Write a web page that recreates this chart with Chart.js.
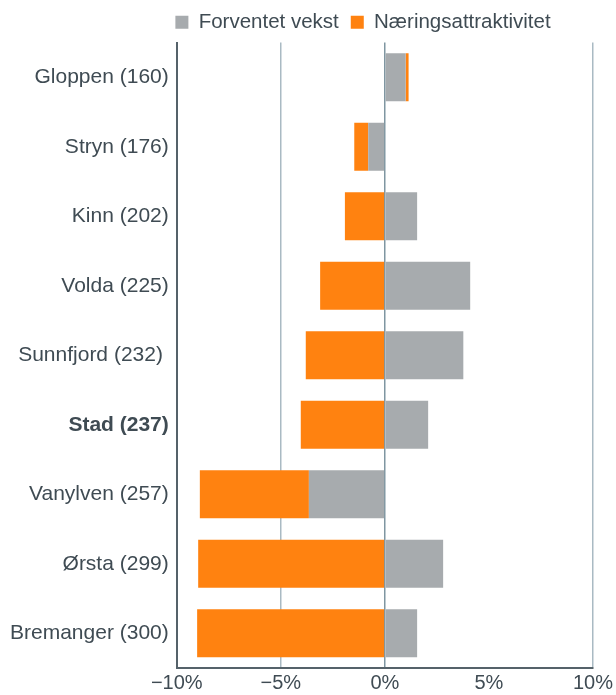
<!DOCTYPE html>
<html>
<head>
<meta charset="utf-8">
<script src="https://cdn.jsdelivr.net/npm/chart.js@4"></script>
<style>
  body { margin: 0; background: #ffffff; }
  #wrap { width: 616px; height: 695px; }
</style>
</head>
<body>
<div id="wrap"><canvas id="vekstChart" width="616" height="695"></canvas></div>
<script>
const kommuner = [
    'Gloppen (160)',
    'Stryn (176)',
    'Kinn (202)',
    'Volda (225)',
    'Sunnfjord (232) ',
    'Stad (237)',
    'Vanylven (257)',
    'Ørsta (299)',
    'Bremanger (300)'
];
const forventetVekst = [1.0, -0.8, 1.55, 4.1, 3.77, 2.08, -3.65, 2.8, 1.55];
const naeringsattraktivitet = [0.14, -0.67, -1.92, -3.11, -3.8, -4.04, -5.24, -8.97, -9.02];
const xTickLabels = ['−10%', '−5%', '0%', '5%', '10%'];

const textColor = '#3f4b53';
const fontFamily = 'Arial, "Liberation Sans", sans-serif';

// flytt legenden litt mot høyre, slik som i originalen
const legendShift = {
    id: 'legendShift',
    afterLayout(chart) {
        chart.legend.left += 54;
        chart.legend.right += 54;
    }
};

document.addEventListener("DOMContentLoaded", function() {
    const ctx = document.getElementById('vekstChart').getContext('2d');

    new Chart(ctx, {
        type: 'bar',
        data: {
            labels: kommuner,
            datasets: [
                {
                    label: 'Forventet vekst',
                    data: forventetVekst,
                    backgroundColor: '#a7abae',
                    borderWidth: 0,
                    barPercentage: 0.69,
                    categoryPercentage: 1
                },
                {
                    label: 'Næringsattraktivitet',
                    data: naeringsattraktivitet,
                    backgroundColor: '#ff8210',
                    borderWidth: 0,
                    barPercentage: 0.69,
                    categoryPercentage: 1
                }
            ]
        },
        options: {
            indexAxis: 'y',
            responsive: false,
            animation: false,
            layout: { padding: { left: 2, right: 0, top: 0, bottom: -3 } },
            plugins: {
                legend: {
                    position: 'top',
                    labels: {
                        color: textColor,
                        font: { size: 20.5, family: fontFamily },
                        boxWidth: 13,
                        boxHeight: 13,
                        padding: 12
                    }
                },
                tooltip: { enabled: false }
            },
            scales: {
                x: {
                    stacked: true,
                    min: -10,
                    max: 10,
                    ticks: {
                        stepSize: 5,
                        color: textColor,
                        font: { size: 20, family: fontFamily },
                        padding: 3,
                        maxRotation: 0,
                        callback: function(value, index) {
                            return xTickLabels[index];
                        }
                    },
                    grid: {
                        drawTicks: false,
                        lineWidth: 1.5,
                        color: function(c) {
                            if (c.tick && c.tick.value === 5) return 'rgba(0,0,0,0)';
                            if (c.tick && c.tick.value === 0) return '#7f96a1';
                            return '#a9bac3';
                        }
                    },
                    border: { color: '#55626a', width: 2 }
                },
                y: {
                    stacked: true,
                    ticks: {
                        color: textColor,
                        padding: 8,
                        font: function(c) {
                            return {
                                size: 21,
                                family: fontFamily,
                                weight: c.index === 5 ? 'bold' : 'normal'
                            };
                        }
                    },
                    grid: { display: false, drawTicks: false },
                    border: { color: '#55626a', width: 2 }
                }
            }
        },
        plugins: [legendShift]
    });
});
</script>
</body>
</html>
